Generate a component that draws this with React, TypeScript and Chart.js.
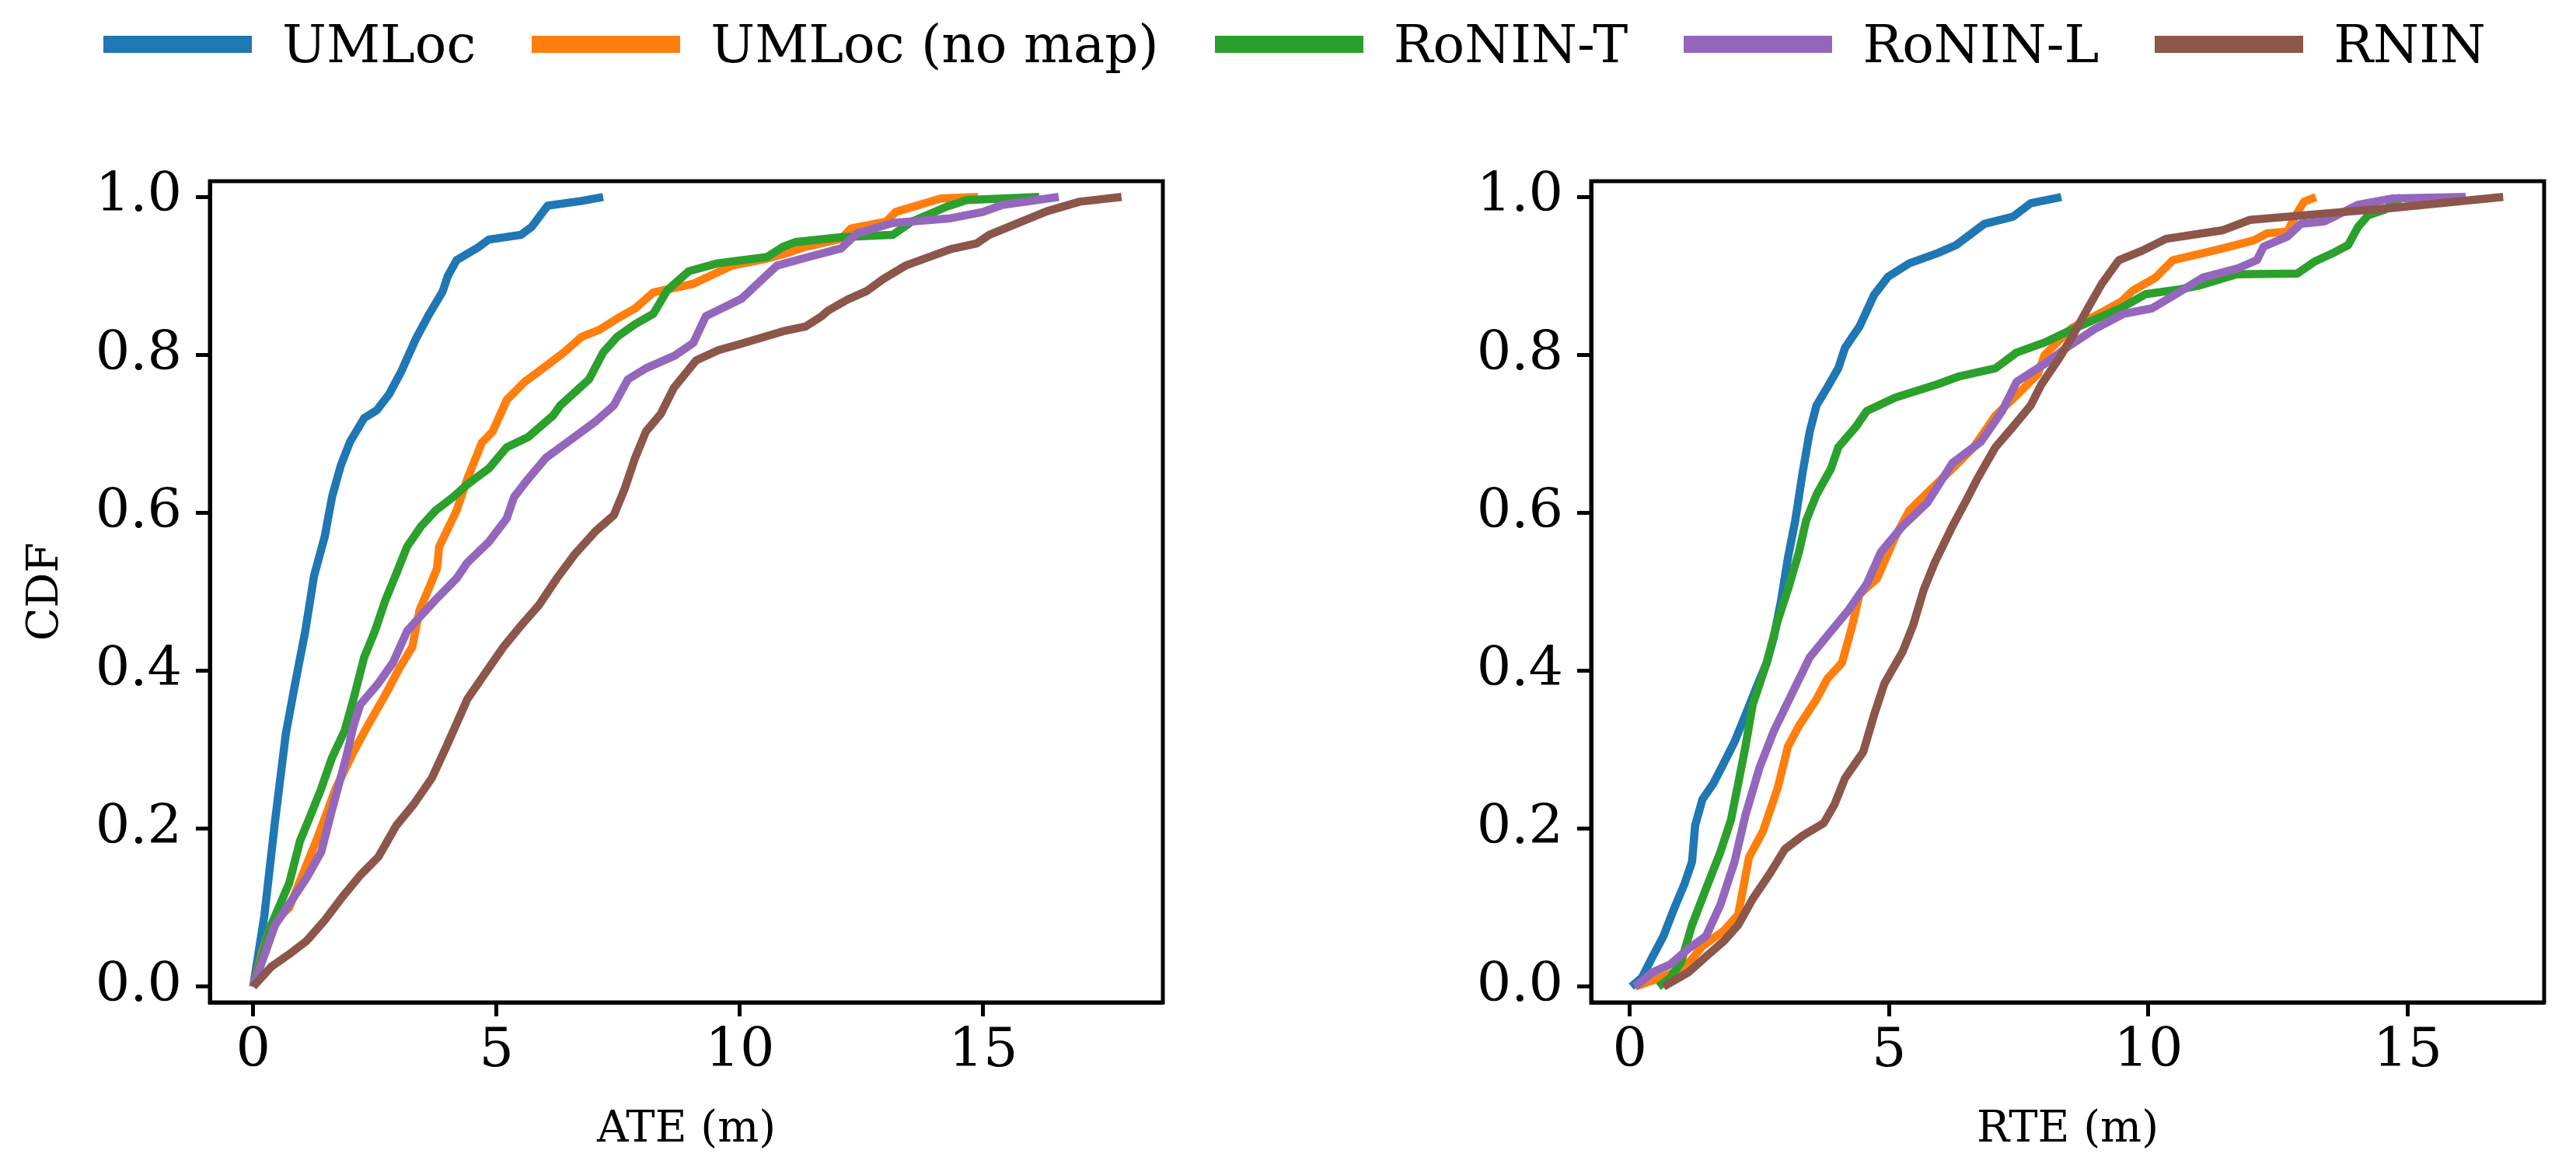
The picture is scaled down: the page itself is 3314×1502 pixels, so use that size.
import { useEffect, useRef } from 'react';
import { Chart, ChartConfiguration, Plugin, registerables } from 'chart.js';

Chart.register(...registerables);

type Pt = [number, number];

const seriesNames = ['UMLoc', 'UMLoc (no map)', 'RoNIN-T', 'RoNIN-L', 'RNIN'];
const seriesColors = ['#1f77b4', '#ff7f0e', '#2ca02c', '#9467bd', '#8c564b'];

const xTicks = [0, 5, 10, 15];
const yTicks = [0, 0.2, 0.4, 0.6, 0.8, 1.0];

// ATE curves, [error (m), CDF]
const ateUmloc: Pt[] = [
  [0, 0], [0.23, 0.09], [0.45, 0.21], [0.67, 0.32], [0.85, 0.38], [1.07, 0.45], [1.25, 0.52],
  [1.47, 0.57], [1.62, 0.62], [1.8, 0.66], [1.99, 0.69], [2.28, 0.72], [2.54, 0.73], [2.79, 0.75],
  [3.05, 0.78], [3.34, 0.82], [3.6, 0.85], [3.89, 0.88], [4.0, 0.9], [4.18, 0.92], [4.62, 0.936],
  [4.84, 0.946], [5.5, 0.952], [5.72, 0.962], [6.05, 0.989], [6.75, 0.995], [7.19, 1.0],
];
const ateNoMap: Pt[] = [
  [0, 0], [0.19, 0.044], [0.37, 0.078], [0.74, 0.1], [1.03, 0.144], [1.33, 0.19], [1.69, 0.25],
  [2.06, 0.297], [2.35, 0.33], [2.72, 0.37], [3.01, 0.404], [3.27, 0.43], [3.42, 0.477], [3.6, 0.503],
  [3.78, 0.53], [3.82, 0.557], [3.97, 0.576], [4.18, 0.603], [4.4, 0.643], [4.7, 0.689], [4.92, 0.703],
  [5.21, 0.743], [5.58, 0.766], [6.02, 0.786], [6.38, 0.803], [6.75, 0.823], [7.12, 0.832], [7.48, 0.846],
  [7.85, 0.859], [8.22, 0.879], [9.04, 0.89], [9.83, 0.913], [10.56, 0.922], [11.02, 0.93], [11.35, 0.937],
  [12.08, 0.947], [12.28, 0.96], [13.01, 0.969], [13.2, 0.981], [14.13, 0.998], [14.89, 1.0],
];
const ateRoninT: Pt[] = [
  [0, 0], [0.37, 0.078], [0.74, 0.131], [0.96, 0.184], [1.18, 0.217], [1.4, 0.251], [1.62, 0.29],
  [1.88, 0.324], [2.06, 0.364], [2.28, 0.417], [2.5, 0.45], [2.72, 0.49], [2.94, 0.523], [3.16, 0.557],
  [3.45, 0.583], [3.75, 0.603], [4.11, 0.62], [4.4, 0.636], [4.84, 0.656], [5.21, 0.683], [5.65, 0.696],
  [6.16, 0.723], [6.31, 0.736], [6.9, 0.769], [7.19, 0.803], [7.48, 0.823], [7.85, 0.839], [8.22, 0.852],
  [8.51, 0.882], [8.95, 0.906], [9.54, 0.916], [10.56, 0.924], [10.89, 0.937], [11.15, 0.943],
  [12.08, 0.949], [13.14, 0.952], [13.54, 0.969], [14.26, 0.988], [14.66, 0.996], [16.15, 1.0],
];
const ateRoninL: Pt[] = [
  [0, 0], [0.45, 0.078], [0.81, 0.111], [1.1, 0.138], [1.4, 0.171], [1.62, 0.224], [1.91, 0.29],
  [2.06, 0.33], [2.2, 0.357], [2.57, 0.384], [2.87, 0.41], [3.16, 0.45], [3.45, 0.47], [3.75, 0.49],
  [4.18, 0.517], [4.4, 0.537], [4.84, 0.563], [5.21, 0.593], [5.36, 0.62], [5.65, 0.643], [6.02, 0.67],
  [6.6, 0.696], [7.04, 0.716], [7.41, 0.736], [7.7, 0.769], [8.07, 0.783], [8.66, 0.799], [9.04, 0.815],
  [9.3, 0.849], [10.03, 0.871], [10.36, 0.89], [10.76, 0.913], [11.29, 0.922], [12.08, 0.935],
  [12.41, 0.954], [13.14, 0.967], [14.33, 0.973], [14.99, 0.981], [15.39, 0.99], [16.55, 1.0],
];
const ateRnin: Pt[] = [
  [0, 0], [0.37, 0.025], [0.74, 0.041], [1.1, 0.058], [1.47, 0.084], [1.84, 0.114], [2.2, 0.141],
  [2.57, 0.164], [2.94, 0.204], [3.3, 0.231], [3.67, 0.264], [3.97, 0.304], [4.4, 0.364], [4.77, 0.397],
  [5.14, 0.43], [5.5, 0.457], [5.87, 0.483], [6.24, 0.517], [6.6, 0.547], [7.04, 0.577], [7.41, 0.597],
  [7.63, 0.63], [7.85, 0.67], [8.07, 0.703], [8.37, 0.725], [8.64, 0.758], [9.1, 0.793], [9.56, 0.806],
  [9.96, 0.813], [10.89, 0.83], [11.35, 0.836], [11.68, 0.849], [11.81, 0.856], [12.21, 0.87],
  [12.61, 0.881], [12.94, 0.896], [13.4, 0.913], [14.33, 0.934], [14.86, 0.941], [15.12, 0.952],
  [15.79, 0.969], [16.31, 0.982], [16.98, 0.994], [17.84, 1.0],
];

// RTE curves, [error (m), CDF]
const rteUmloc: Pt[] = [
  [0.03, 0], [0.23, 0.011], [0.44, 0.038], [0.65, 0.064], [0.85, 0.098], [1.06, 0.131], [1.2, 0.158],
  [1.26, 0.204], [1.4, 0.237], [1.61, 0.257], [1.82, 0.284], [2.02, 0.31], [2.23, 0.344], [2.43, 0.377],
  [2.64, 0.41], [2.78, 0.443], [2.92, 0.49], [3.05, 0.543], [3.19, 0.59], [3.33, 0.65], [3.47, 0.703],
  [3.6, 0.736], [3.81, 0.759], [4.02, 0.783], [4.15, 0.809], [4.43, 0.836], [4.71, 0.876], [4.98, 0.899],
  [5.39, 0.916], [5.94, 0.929], [6.29, 0.939], [6.84, 0.966], [7.39, 0.975], [7.73, 0.992], [8.32, 1.0],
];
const rteNoMap: Pt[] = [
  [0.1, 0], [0.58, 0.011], [1.06, 0.024], [1.4, 0.051], [1.82, 0.071], [2.09, 0.091], [2.3, 0.164],
  [2.57, 0.197], [2.85, 0.251], [3.05, 0.304], [3.26, 0.33], [3.6, 0.364], [3.81, 0.39], [4.09, 0.41],
  [4.29, 0.457], [4.43, 0.497], [4.77, 0.517], [5.12, 0.57], [5.39, 0.603], [5.81, 0.63], [6.22, 0.656],
  [6.63, 0.683], [7.05, 0.723], [7.46, 0.749], [7.87, 0.776], [8.0, 0.8], [8.52, 0.834], [9.1, 0.854],
  [9.49, 0.868], [9.69, 0.881], [10.14, 0.898], [10.47, 0.92], [11.44, 0.935], [12.03, 0.945],
  [12.29, 0.954], [12.68, 0.956], [12.81, 0.973], [13.0, 0.994], [13.23, 1.0],
];
const rteRoninT: Pt[] = [
  [0.55, 0], [0.78, 0.011], [0.99, 0.031], [1.2, 0.078], [1.47, 0.124], [1.75, 0.171], [1.95, 0.211],
  [2.09, 0.257], [2.23, 0.304], [2.37, 0.357], [2.64, 0.41], [2.85, 0.463], [3.05, 0.503], [3.26, 0.55],
  [3.4, 0.59], [3.6, 0.623], [3.88, 0.656], [4.02, 0.683], [4.36, 0.709], [4.57, 0.729], [5.12, 0.746],
  [5.94, 0.763], [6.36, 0.773], [7.05, 0.783], [7.46, 0.803], [8.01, 0.816], [8.42, 0.829], [8.97, 0.845],
  [9.49, 0.86], [9.95, 0.877], [10.6, 0.883], [10.99, 0.888], [11.7, 0.902], [12.87, 0.903], [13.2, 0.918],
  [13.59, 0.93], [13.85, 0.939], [14.04, 0.962], [14.24, 0.977], [14.56, 0.984], [14.89, 1.0],
];
const rteRoninL: Pt[] = [
  [0.1, 0], [0.44, 0.018], [0.78, 0.028], [1.13, 0.048], [1.47, 0.064], [1.75, 0.104], [2.02, 0.158],
  [2.23, 0.217], [2.5, 0.277], [2.78, 0.324], [3.12, 0.37], [3.47, 0.417], [3.88, 0.45], [4.22, 0.477],
  [4.57, 0.51], [4.84, 0.55], [5.26, 0.583], [5.74, 0.613], [6.22, 0.663], [6.77, 0.69], [7.18, 0.729],
  [7.46, 0.766], [8.01, 0.789], [8.42, 0.809], [8.97, 0.833], [9.52, 0.852], [10.07, 0.859], [10.53, 0.877],
  [11.05, 0.898], [11.7, 0.909], [12.09, 0.92], [12.22, 0.937], [12.68, 0.95], [12.94, 0.966],
  [13.39, 0.969], [14.04, 0.99], [14.69, 0.998], [16.12, 1.0],
];
const rteRnin: Pt[] = [
  [0.65, 0], [1.13, 0.018], [1.47, 0.038], [1.82, 0.058], [2.09, 0.078], [2.37, 0.111], [2.71, 0.144],
  [2.99, 0.174], [3.33, 0.191], [3.74, 0.207], [3.95, 0.231], [4.15, 0.264], [4.5, 0.297], [4.71, 0.344],
  [4.91, 0.384], [5.26, 0.424], [5.46, 0.457], [5.67, 0.503], [5.88, 0.537], [6.22, 0.583], [6.49, 0.616],
  [6.7, 0.643], [7.05, 0.683], [7.39, 0.709], [7.73, 0.736], [7.94, 0.763], [8.28, 0.796], [8.52, 0.822],
  [8.84, 0.86], [9.1, 0.89], [9.43, 0.92], [9.88, 0.932], [10.34, 0.947], [11.44, 0.958], [11.96, 0.971],
  [13.39, 0.979], [14.69, 0.986], [16.84, 1.0],
];

const FONT = 'DejaVu Serif';

// matplotlib-style box round the axes
const framePlugin: Plugin<'line'> = {
  id: 'frame',
  afterDraw(chart) {
    const { ctx, chartArea: a } = chart;
    ctx.save();
    ctx.strokeStyle = '#000';
    ctx.lineWidth = 5;
    ctx.strokeRect(a.left, a.top, a.right - a.left, a.bottom - a.top);
    ctx.restore();
  },
};

interface PanelProps {
  curves: Pt[][];
  xMin: number;
  xMax: number;
  xTitle: string;
  yTitle?: string;
  axisWidth: number;
  rightPad: number;
}

function CdfPanel({ curves, xMin, xMax, xTitle, yTitle, axisWidth, rightPad }: PanelProps) {
  const canvasRef = useRef<HTMLCanvasElement>(null);

  useEffect(() => {
    if (!canvasRef.current) return;

    const config: ChartConfiguration<'line', { x: number; y: number }[]> = {
      type: 'line',
      data: {
        datasets: curves.map((pts, i) => ({
          label: seriesNames[i],
          data: pts.map(([x, y]) => ({ x, y })),
          borderColor: seriesColors[i],
          borderWidth: 10.5,
          borderJoinStyle: 'round',
          pointRadius: 0,
          tension: 0,
          fill: false,
          order: curves.length - i,
        })),
      },
      options: {
        responsive: false,
        animation: false,
        devicePixelRatio: 1,
        layout: { padding: { top: 233, right: rightPad, bottom: 0, left: 0 } },
        plugins: {
          legend: { display: false },
          tooltip: { enabled: false },
        },
        scales: {
          x: {
            type: 'linear',
            min: xMin,
            max: xMax,
            afterBuildTicks: (axis) => {
              axis.ticks = xTicks.map((v) => ({ value: v }));
            },
            afterFit: (axis) => {
              axis.height = 213;
            },
            ticks: {
              color: '#000',
              padding: 4,
              font: { family: FONT, size: 70 },
              callback: (v) => String(v),
            },
            grid: {
              drawOnChartArea: false,
              drawTicks: true,
              tickLength: 18,
              tickWidth: 5,
              tickColor: '#000',
            },
            border: { display: true, color: '#000', width: 5 },
            title: {
              display: true,
              text: xTitle,
              color: '#000',
              font: { family: FONT, size: 56 },
              padding: { top: 0, bottom: 15 },
            },
          },
          y: {
            type: 'linear',
            min: -0.02,
            max: 1.02,
            afterBuildTicks: (axis) => {
              axis.ticks = yTicks.map((v) => ({ value: v }));
            },
            afterFit: (axis) => {
              axis.width = axisWidth;
            },
            ticks: {
              color: '#000',
              padding: 18,
              font: { family: FONT, size: 70 },
              callback: (v) => Number(v).toFixed(1),
            },
            grid: {
              drawOnChartArea: false,
              drawTicks: true,
              tickLength: 18,
              tickWidth: 5,
              tickColor: '#000',
            },
            border: { display: true, color: '#000', width: 5 },
            title: {
              display: !!yTitle,
              text: yTitle ?? '',
              color: '#000',
              font: { family: FONT, size: 56 },
              padding: { top: 26, bottom: 0 },
            },
          },
        },
      },
      plugins: [framePlugin],
    };

    const chart = new Chart(canvasRef.current, config);
    return () => chart.destroy();
  }, []);

  return <canvas ref={canvasRef} width={1657} height={1502} style={{ display: 'block', width: 1657, height: 1502 }} />;
}

export default function App() {
  return (
    <div style={{ position: 'fixed', left: 0, top: 0, width: 3314, height: 1502, background: '#fff', overflow: 'hidden' }}>
      {/* shared legend across the top */}
      <div
        style={{
          position: 'absolute',
          left: 133,
          top: 15,
          height: 84,
          display: 'flex',
          alignItems: 'center',
          fontFamily: FONT,
          fontSize: 67.5,
          lineHeight: '84px',
          color: '#000',
          whiteSpace: 'nowrap',
        }}
      >
        {seriesNames.map((name, i) => (
          <div key={name} style={{ display: 'flex', alignItems: 'center', marginRight: 72 }}>
            <span style={{ display: 'inline-block', width: 191, height: 22, background: seriesColors[i], marginRight: 39 }} />
            <span>{name}</span>
          </div>
        ))}
      </div>
      <div style={{ position: 'absolute', left: 0, top: 0 }}>
        <CdfPanel
          curves={[ateUmloc, ateNoMap, ateRoninT, ateRoninL, ateRnin]}
          xMin={-0.89}
          xMax={18.69}
          xTitle="ATE (m)"
          yTitle="CDF"
          axisWidth={270}
          rightPad={161}
        />
      </div>
      <div style={{ position: 'absolute', left: 1657, top: 0 }}>
        <CdfPanel
          curves={[rteUmloc, rteNoMap, rteRoninT, rteRoninL, rteRnin]}
          xMin={-0.745}
          xMax={17.63}
          xTitle="RTE (m)"
          axisWidth={390}
          rightPad={41}
        />
      </div>
    </div>
  );
}
